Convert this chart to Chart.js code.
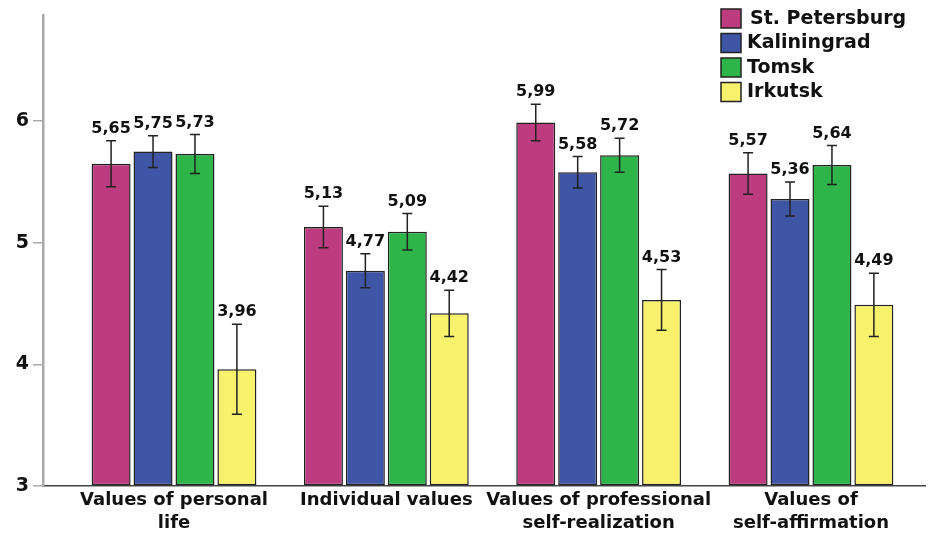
<!DOCTYPE html>
<html>
<head>
<meta charset="utf-8">
<script src="https://cdn.jsdelivr.net/npm/chart.js@4/dist/chart.umd.min.js"></script>
<style>
  html, body { margin: 0; padding: 0; background: #fff; }
  #wrap { width: 930px; height: 535px; }
</style>
</head>
<body>
<div id="wrap"><canvas id="chart" width="930" height="535"></canvas></div>
<script>
// value groups along the x axis, one line per array entry
var categories = [
    ["Values of personal", "life"],
    ["Individual values"],
    ["Values of professional", "self-realization"],
    ["Values of", "self-affirmation"]
];
var cities = ["St. Petersburg", "Kaliningrad", "Tomsk", "Irkutsk"];
var cityColors = ["#bc3c7f", "#3f55a6", "#2db54a", "#f8f16c"];

// mean scores and error half-widths per city
var spbMeans = [5.65, 5.13, 5.99, 5.57];
var spbErrors = [0.19, 0.17, 0.15, 0.17];
var kalMeans = [5.75, 4.77, 5.58, 5.36];
var kalErrors = [0.13, 0.14, 0.13, 0.14];
var tomskMeans = [5.73, 5.09, 5.72, 5.64];
var tomskErrors = [0.16, 0.15, 0.14, 0.16];
var irkMeans = [3.96, 4.42, 4.53, 4.49];
var irkErrors = [0.37, 0.19, 0.25, 0.26];

var yTicks = [3, 4, 5, 6];

var FONT = "'DejaVu Sans', sans-serif";

function makeSet(label, color, means, errors) {
    return {
        label: label,
        data: means.map(function (v, i) { return { x: i, y: v }; }),
        errors: errors,
        backgroundColor: color,
        borderColor: "#222",
        borderWidth: 1.5,
        borderSkipped: false,
        base: 3,
        categoryPercentage: 0.79,
        barPercentage: 0.93
    };
}

// error bars plus the value printed above each one
var errorBars = {
    id: "errorBars",
    afterDatasetsDraw: function (chart) {
        var ctx = chart.ctx;
        var yScale = chart.scales.y;
        ctx.save();
        chart.data.datasets.forEach(function (ds, di) {
            var meta = chart.getDatasetMeta(di);
            meta.data.forEach(function (bar, i) {
                var v = ds.data[i].y;
                var e = ds.errors[i];
                var top = yScale.getPixelForValue(v + e);
                var bottom = yScale.getPixelForValue(v - e);
                var x = bar.x;
                ctx.strokeStyle = "#222";
                ctx.lineWidth = 1.5;
                ctx.beginPath();
                ctx.moveTo(x, top);
                ctx.lineTo(x, bottom);
                ctx.moveTo(x - 5, top);
                ctx.lineTo(x + 5, top);
                ctx.moveTo(x - 5, bottom);
                ctx.lineTo(x + 5, bottom);
                ctx.stroke();

                ctx.fillStyle = "#111";
                ctx.font = "bold 16px " + FONT;
                ctx.textAlign = "center";
                ctx.textBaseline = "bottom";
                ctx.fillText(v.toFixed(2).replace(".", ","), x, top - 4);
            });
        });
        ctx.restore();
    }
};

// legend boxes stacked in the top right corner
var boxLegend = {
    id: "boxLegend",
    afterDraw: function (chart) {
        var ctx = chart.ctx;
        ctx.save();
        chart.data.datasets.forEach(function (ds, i) {
            var y = 9 + i * 24.5;
            ctx.fillStyle = ds.backgroundColor;
            ctx.fillRect(721, y, 20, 19);
            ctx.strokeStyle = "#222";
            ctx.lineWidth = 1.5;
            ctx.strokeRect(721, y, 20, 19);
            ctx.fillStyle = "#111";
            ctx.font = "bold 19px " + FONT;
            ctx.textAlign = "left";
            ctx.textBaseline = "middle";
            ctx.fillText(ds.label, i === 0 ? 750 : 747, y + 10);
        });
        ctx.restore();
    }
};

new Chart(document.getElementById("chart"), {
    type: "bar",
    data: {
        datasets: [
            makeSet(cities[0], cityColors[0], spbMeans, spbErrors),
            makeSet(cities[1], cityColors[1], kalMeans, kalErrors),
            makeSet(cities[2], cityColors[2], tomskMeans, tomskErrors),
            makeSet(cities[3], cityColors[3], irkMeans, irkErrors)
        ]
    },
    options: {
        responsive: false,
        animation: false,
        layout: { padding: { top: 12, right: 5, left: 0, bottom: 0 } },
        plugins: {
            legend: { display: false },
            tooltip: { enabled: false }
        },
        scales: {
            x: {
                type: "linear",
                offset: false,
                min: -0.617,
                max: 3.537,
                afterBuildTicks: function (scale) {
                    scale.ticks = categories.map(function (c, i) { return { value: i }; });
                },
                afterFit: function (scale) { scale.height = 49; },
                grid: { display: false },
                border: { display: true, color: "#444", width: 1.5 },
                ticks: {
                    autoSkip: false,
                    maxRotation: 0,
                    padding: -5,
                    color: "#111",
                    font: { family: FONT, size: 18, weight: "bold", lineHeight: 1.27 },
                    callback: function (value) { return categories[value]; }
                }
            },
            y: {
                min: 3,
                max: 6.87,
                afterBuildTicks: function (scale) {
                    scale.ticks = yTicks.map(function (v) { return { value: v }; });
                },
                afterFit: function (scale) { scale.width = 43; },
                grid: {
                    drawOnChartArea: false,
                    drawTicks: true,
                    tickLength: 10,
                    color: "#aaa",
                    lineWidth: 1.5
                },
                border: { display: true, color: "#aaa", width: 2.5 },
                ticks: {
                    padding: 4,
                    color: "#111",
                    font: { family: FONT, size: 19, weight: "bold" }
                }
            }
        }
    },
    plugins: [errorBars, boxLegend]
});
</script>
</body>
</html>
